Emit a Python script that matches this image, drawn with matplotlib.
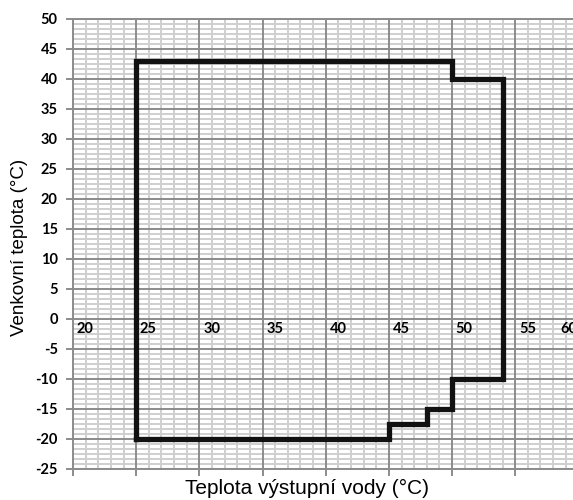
import matplotlib
matplotlib.use("Agg")
import matplotlib.pyplot as plt
from matplotlib.ticker import MultipleLocator

# ---- data: operating envelope (outlet water temp vs outdoor temp) ----
water_temp = [25, 25, 50, 50, 54, 54, 50, 50, 48, 48, 45, 45, 25]
outdoor_temp = [-20, 43, 43, 40, 40, -10, -10, -15, -15, -17.5, -17.5, -20, -20]

x_ticks = [20, 25, 30, 35, 40, 45, 50, 55, 60]
y_ticks = [50, 45, 40, 35, 30, 25, 20, 15, 10, 5, 0, -5, -10, -15, -20, -25]

major_col = "#8c8c8c"
minor_col = "#cfcfcf"

fig = plt.figure(figsize=(5.73, 5.0), dpi=100)
ax = fig.add_axes([0.1274, 0.062, 0.882, 0.9006])

ax.set_xlim(20, 60)
ax.set_ylim(-25, 50)

# light minor grid from the axis, darker major lines on top of it
ax.xaxis.set_minor_locator(MultipleLocator(1))
ax.yaxis.set_minor_locator(MultipleLocator(5 / 6))
ax.grid(which="minor", color=minor_col, linewidth=1.4)
ax.grid(which="major", visible=False)
ax.set_axisbelow(True)
for xv in x_ticks:
    ax.axvline(xv, color=major_col, linewidth=1.4, zorder=1)
for yv in y_ticks:
    ax.axhline(yv, color=major_col, linewidth=1.4, zorder=1)

ax.plot(water_temp, outdoor_temp, color="#111111", linewidth=3.8,
        solid_joinstyle="miter", zorder=3)

for s in ["left", "bottom", "top"]:
    ax.spines[s].set_color(major_col)
    ax.spines[s].set_linewidth(1.4)
ax.spines["right"].set_visible(False)

ax.tick_params(which="minor", length=0)
ax.tick_params(which="major", length=5, width=1.4, color=major_col)
ax.set_yticks(y_ticks)
ax.set_yticklabels([str(v) for v in y_ticks], fontfamily="Lato",
                   fontweight="bold", fontsize=10.5)
ax.tick_params(axis="y", pad=6)
ax.set_xticks(x_ticks)
ax.set_xticklabels([])

# x tick labels sit on the zero line, as in the source;
# the last one is pulled inward like Excel does at the plot edge
for xv in x_ticks:
    ax.text(min(xv + 0.3, 58.6), -1.7, str(xv), ha="left", va="center",
            fontfamily="Lato", fontweight="bold", fontsize=10.5,
            zorder=4, clip_on=False)

ax.set_xlabel("Teplota výstupní vody (°C)", fontfamily="Liberation Sans",
              fontsize=15, va="center")
ax.xaxis.set_label_coords(0.464, -0.043)
ax.set_ylabel("Venkovní teplota (°C)", fontfamily="Liberation Sans",
              fontsize=13.5, va="center")
ax.yaxis.set_label_coords(-0.105, 0.492)

fig.savefig("out.png", dpi=100)
